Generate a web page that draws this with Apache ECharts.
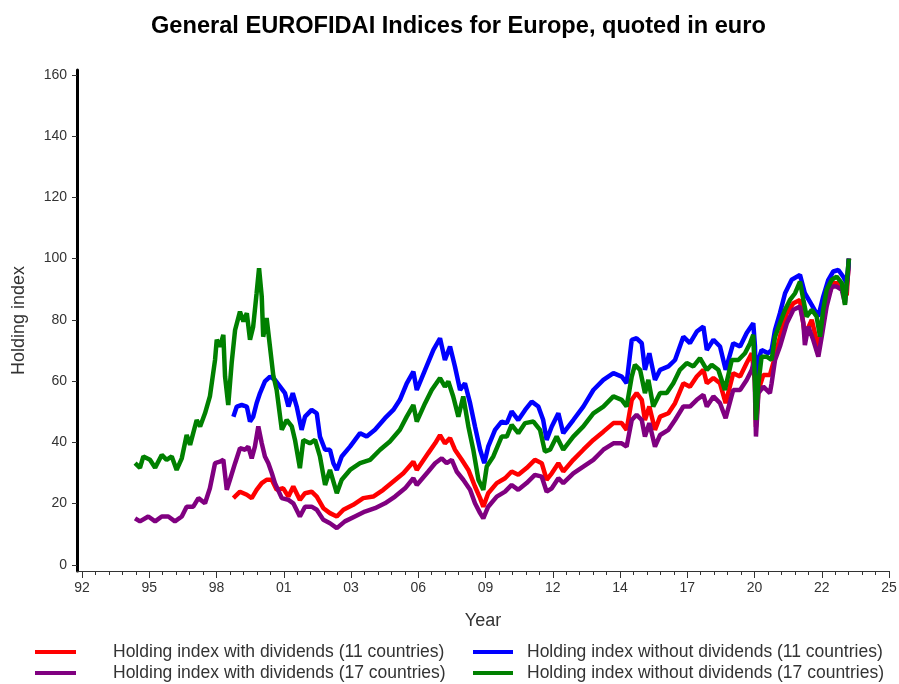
<!DOCTYPE html>
<html>
<head>
<meta charset="utf-8">
<title>General EUROFIDAI Indices for Europe</title>
<script src="https://cdn.jsdelivr.net/npm/echarts@6/dist/echarts.min.js"></script>
<style>
  html, body { margin: 0; padding: 0; background: #fff; }
  #chart { width: 899px; height: 684px; }
</style>
</head>
<body>
<div id="chart"></div>
<script>
// tick labels on the year axis (SAS style, one label every 2.75 years)
const tickLabels = ['92', '95', '98', '01', '03', '06', '09', '12', '14', '17', '20', '22', '25'];
const tickStart = 1992.75;
const tickStep = 2.75;
const yTicks = [0, 20, 40, 60, 80, 100, 120, 140, 160];

const seriesNames = [
    'Holding index with dividends (11 countries)',
    'Holding index with dividends (17 countries)',
    'Holding index without dividends (11 countries)',
    'Holding index without dividends (17 countries)'
];

// [year, index]
const withDiv11 = [
    [1998.94, 21.8], [1999.21, 23.9], [1999.49, 22.9], [1999.69, 21.8], [1999.89, 24.5], [2000.10, 26.7],
    [2000.30, 27.8], [2000.51, 27.8], [2000.71, 24.5], [2000.98, 25.0], [2001.19, 22.3], [2001.39, 25.6],
    [2001.66, 21.2], [2001.87, 23.4], [2002.14, 23.9], [2002.35, 22.3], [2002.62, 18.5], [2002.89, 16.9],
    [2003.17, 15.8], [2003.44, 18.0], [2003.84, 19.6], [2004.25, 21.8], [2004.66, 22.3], [2005.07, 24.5],
    [2005.48, 27.2], [2005.89, 29.9], [2006.30, 33.7], [2006.44, 31.0], [2006.91, 36.5], [2007.19, 39.7],
    [2007.39, 42.4], [2007.59, 39.7], [2007.80, 41.4], [2008.00, 37.6], [2008.28, 34.3], [2008.55, 31.0],
    [2008.82, 25.6], [2009.03, 21.8], [2009.16, 19.0], [2009.36, 23.4], [2009.71, 26.7], [2010.05, 28.3],
    [2010.32, 30.5], [2010.59, 29.4], [2010.93, 31.6], [2011.27, 34.3], [2011.55, 33.2], [2011.75, 27.8],
    [2011.96, 29.9], [2012.23, 33.2], [2012.43, 30.5], [2012.84, 34.3], [2013.25, 37.6], [2013.66, 40.8],
    [2014.07, 43.5], [2014.48, 46.3], [2014.82, 46.3], [2015.02, 44.1], [2015.23, 53.9], [2015.43, 56.1],
    [2015.64, 53.9], [2015.77, 47.3], [2015.95, 51.7], [2016.18, 44.1], [2016.39, 48.4], [2016.73, 49.5],
    [2017.00, 52.8], [2017.34, 59.3], [2017.61, 58.2], [2017.89, 61.5], [2018.16, 63.7], [2018.30, 59.3],
    [2018.57, 61.0], [2018.84, 59.3], [2019.07, 52.8], [2019.38, 62.6], [2019.66, 61.5], [2019.93, 65.9],
    [2020.14, 69.1], [2020.27, 60.0], [2020.31, 45.0], [2020.41, 57.0], [2020.61, 62.0], [2020.88, 62.0],
    [2021.09, 68.0], [2021.29, 74.5], [2021.57, 82.2], [2021.84, 85.4], [2022.11, 86.5], [2022.31, 75.0],
    [2022.59, 80.0], [2022.86, 71.0], [2023.06, 80.0], [2023.27, 88.0], [2023.47, 92.0], [2023.68, 92.0],
    [2023.88, 90.0], [2024.02, 88.0], [2024.11, 100.0]
];

const withDiv17 = [
    [1994.92, 15.2], [1995.12, 14.2], [1995.46, 15.8], [1995.74, 14.2], [1996.01, 15.8], [1996.28, 15.8],
    [1996.55, 14.2], [1996.83, 15.8], [1997.03, 19.0], [1997.30, 19.0], [1997.51, 21.8], [1997.78, 20.1],
    [1997.98, 25.0], [1998.19, 33.2], [1998.39, 33.7], [1998.53, 34.3], [1998.67, 24.5], [1998.80, 27.8],
    [1999.01, 33.2], [1999.21, 38.1], [1999.42, 37.6], [1999.55, 38.6], [1999.69, 34.8], [1999.82, 38.6],
    [1999.96, 45.2], [2000.10, 39.7], [2000.23, 35.4], [2000.37, 33.2], [2000.51, 30.0], [2000.64, 26.7],
    [2000.92, 21.8], [2001.19, 21.2], [2001.39, 20.1], [2001.66, 15.8], [2001.87, 19.0], [2002.14, 19.0],
    [2002.35, 18.0], [2002.62, 14.7], [2002.89, 13.6], [2003.17, 12.0], [2003.50, 14.2], [2003.91, 15.8],
    [2004.32, 17.4], [2004.73, 18.5], [2005.14, 20.1], [2005.55, 22.3], [2005.96, 25.0], [2006.30, 28.3],
    [2006.44, 26.1], [2006.91, 30.5], [2007.19, 33.2], [2007.46, 34.8], [2007.66, 33.2], [2007.87, 34.3],
    [2008.07, 30.5], [2008.34, 27.8], [2008.62, 24.5], [2008.82, 20.1], [2009.03, 16.9], [2009.16, 15.2],
    [2009.36, 19.0], [2009.71, 22.3], [2010.05, 23.9], [2010.32, 26.1], [2010.59, 24.5], [2010.93, 26.7],
    [2011.27, 29.4], [2011.55, 28.8], [2011.75, 23.9], [2011.96, 25.0], [2012.23, 28.3], [2012.43, 26.7],
    [2012.84, 29.9], [2013.25, 32.1], [2013.66, 34.3], [2014.07, 37.6], [2014.48, 39.7], [2014.82, 39.7],
    [2015.02, 38.6], [2015.23, 47.3], [2015.43, 49.0], [2015.64, 47.3], [2015.77, 41.9], [2015.95, 46.3],
    [2016.18, 38.6], [2016.39, 42.4], [2016.73, 44.1], [2017.00, 47.3], [2017.34, 51.7], [2017.61, 51.7],
    [2017.89, 53.9], [2018.16, 55.5], [2018.30, 51.7], [2018.57, 55.0], [2018.84, 52.8], [2019.07, 47.9],
    [2019.38, 57.1], [2019.66, 57.1], [2019.93, 60.4], [2020.14, 63.7], [2020.24, 66.9], [2020.31, 41.9],
    [2020.41, 56.1], [2020.61, 58.2], [2020.88, 56.1], [2020.95, 59.3], [2021.09, 66.9], [2021.29, 71.3],
    [2021.57, 78.9], [2021.84, 83.3], [2022.11, 84.4], [2022.25, 78.9], [2022.31, 71.8], [2022.45, 77.8],
    [2022.65, 73.5], [2022.86, 68.0], [2023.00, 74.5], [2023.20, 84.4], [2023.41, 90.9], [2023.61, 90.9],
    [2023.82, 89.8], [2023.95, 85.4], [2024.09, 96.3], [2024.11, 100.0]
];

const noDiv11 = [
    [1998.94, 48.4], [1999.08, 51.7], [1999.28, 52.2], [1999.49, 51.7], [1999.62, 46.8], [1999.75, 48.4],
    [1999.89, 52.8], [2000.03, 56.1], [2000.23, 59.9], [2000.44, 61.5], [2000.64, 60.4], [2000.85, 58.2],
    [2001.05, 56.1], [2001.19, 51.7], [2001.37, 56.1], [2001.53, 51.7], [2001.73, 44.1], [2001.87, 48.4],
    [2002.14, 50.6], [2002.35, 49.5], [2002.48, 41.9], [2002.69, 37.6], [2002.89, 37.6], [2003.03, 33.2],
    [2003.17, 31.0], [2003.37, 35.4], [2003.71, 38.6], [2004.12, 43.0], [2004.39, 41.9], [2004.73, 44.1],
    [2005.14, 47.9], [2005.48, 50.6], [2005.75, 53.9], [2006.03, 59.3], [2006.30, 63.1], [2006.44, 57.1],
    [2006.78, 63.7], [2007.12, 70.2], [2007.39, 74.0], [2007.59, 66.9], [2007.80, 71.3], [2008.00, 64.8],
    [2008.21, 57.1], [2008.41, 59.3], [2008.62, 52.8], [2008.82, 45.2], [2009.03, 37.6], [2009.20, 33.2],
    [2009.36, 38.6], [2009.64, 44.1], [2009.91, 46.8], [2010.12, 46.3], [2010.32, 50.1], [2010.59, 47.3],
    [2010.87, 50.6], [2011.14, 53.3], [2011.41, 51.7], [2011.61, 47.3], [2011.75, 40.8], [2011.96, 45.2],
    [2012.23, 49.5], [2012.43, 43.0], [2012.84, 47.3], [2013.25, 51.7], [2013.66, 57.1], [2014.07, 60.4],
    [2014.48, 62.6], [2014.82, 61.5], [2015.02, 59.3], [2015.23, 73.5], [2015.43, 74.0], [2015.64, 72.4],
    [2015.77, 63.7], [2015.95, 69.1], [2016.18, 60.4], [2016.39, 63.7], [2016.73, 64.8], [2017.00, 66.9],
    [2017.34, 74.5], [2017.61, 72.4], [2017.89, 76.2], [2018.16, 77.8], [2018.30, 70.2], [2018.57, 73.5],
    [2018.84, 71.3], [2019.07, 63.7], [2019.38, 72.4], [2019.66, 71.3], [2019.93, 75.7], [2020.20, 78.9],
    [2020.27, 71.3], [2020.31, 55.0], [2020.41, 66.9], [2020.54, 70.2], [2020.81, 69.1], [2020.95, 70.2],
    [2021.09, 76.7], [2021.29, 82.2], [2021.50, 88.7], [2021.77, 93.1], [2022.11, 94.7], [2022.31, 88.7],
    [2022.59, 84.9], [2022.86, 81.1], [2023.06, 87.6], [2023.27, 93.1], [2023.47, 95.8], [2023.68, 96.3],
    [2023.88, 94.1], [2024.02, 92.0], [2024.11, 100.0]
];

const noDiv17 = [
    [1994.92, 33.2], [1995.12, 31.7], [1995.26, 35.4], [1995.53, 34.3], [1995.74, 31.7], [1996.01, 35.9],
    [1996.21, 34.3], [1996.42, 35.4], [1996.62, 31.0], [1996.83, 34.8], [1997.03, 42.4], [1997.17, 39.2],
    [1997.44, 47.3], [1997.58, 45.2], [1997.78, 49.5], [1997.98, 55.0], [1998.19, 66.9], [1998.26, 73.5],
    [1998.39, 71.3], [1998.53, 75.1], [1998.60, 61.5], [1998.73, 52.2], [1998.87, 65.9], [1999.01, 76.7],
    [1999.21, 82.7], [1999.35, 79.5], [1999.49, 82.2], [1999.62, 73.5], [1999.75, 77.8], [1999.89, 88.7],
    [1999.99, 96.9], [2000.10, 87.6], [2000.16, 74.5], [2000.30, 80.6], [2000.44, 71.0], [2000.57, 62.0],
    [2000.71, 57.1], [2000.92, 44.1], [2001.12, 47.3], [2001.33, 45.2], [2001.46, 40.8], [2001.66, 31.6],
    [2001.80, 40.8], [2002.07, 39.7], [2002.28, 40.8], [2002.48, 35.4], [2002.69, 26.1], [2002.89, 31.0],
    [2003.17, 23.4], [2003.37, 27.8], [2003.71, 31.0], [2004.12, 33.2], [2004.53, 34.3], [2004.94, 37.6],
    [2005.34, 40.3], [2005.75, 44.1], [2006.03, 48.4], [2006.30, 52.2], [2006.44, 46.8], [2006.78, 52.8],
    [2007.05, 57.1], [2007.39, 61.0], [2007.59, 58.2], [2007.73, 59.9], [2007.93, 55.0], [2008.14, 48.4],
    [2008.34, 55.0], [2008.55, 45.2], [2008.75, 37.6], [2008.96, 27.8], [2009.16, 24.5], [2009.30, 32.1],
    [2009.57, 35.4], [2009.91, 41.9], [2010.12, 41.9], [2010.32, 45.7], [2010.59, 43.0], [2010.87, 46.3],
    [2011.21, 46.8], [2011.48, 44.1], [2011.68, 37.0], [2011.89, 37.6], [2012.16, 41.9], [2012.43, 37.6],
    [2012.84, 41.9], [2013.25, 45.2], [2013.66, 49.5], [2014.07, 51.7], [2014.48, 55.0], [2014.82, 53.9],
    [2015.02, 51.7], [2015.23, 61.5], [2015.36, 65.3], [2015.57, 63.7], [2015.77, 56.1], [2015.91, 60.4],
    [2016.11, 51.7], [2016.39, 56.1], [2016.66, 56.1], [2016.93, 59.3], [2017.20, 63.7], [2017.48, 65.9],
    [2017.75, 64.8], [2018.02, 67.5], [2018.30, 63.7], [2018.50, 65.3], [2018.77, 63.7], [2019.04, 57.1],
    [2019.32, 66.9], [2019.59, 66.9], [2019.86, 69.1], [2020.07, 72.4], [2020.20, 75.1], [2020.27, 59.3],
    [2020.31, 47.3], [2020.41, 59.3], [2020.54, 68.0], [2020.75, 68.0], [2020.95, 66.9], [2021.09, 74.5],
    [2021.29, 78.9], [2021.50, 83.3], [2021.70, 86.5], [2021.91, 88.7], [2022.11, 92.5], [2022.25, 86.5],
    [2022.38, 81.1], [2022.59, 83.3], [2022.79, 81.1], [2022.93, 74.5], [2023.06, 83.3], [2023.20, 89.8],
    [2023.41, 93.1], [2023.61, 94.1], [2023.82, 92.0], [2023.95, 84.9], [2024.02, 92.0], [2024.11, 100.0]
];

const seriesColors = ['#ff0000', '#800080', '#0000ff', '#008000'];
const seriesData = [withDiv11, withDiv17, noDiv11, noDiv17];

const font = "'Liberation Sans', Arial, sans-serif";

const majorTicks = tickLabels.map(function (_, i) { return tickStart + i * tickStep; });
const minorTicks = [];
for (let j = 0; j <= (tickLabels.length - 1) * 5; j++) {
    if (j % 5 !== 0) minorTicks.push(tickStart + j * tickStep / 5);
}
const xMin = tickStart - 0.2045;
const xMax = tickStart + (tickLabels.length - 1) * tickStep;

const chart = echarts.init(document.getElementById('chart'), null, { renderer: 'canvas' });

chart.setOption({
    animation: false,
    backgroundColor: '#ffffff',
    title: {
        text: 'General EUROFIDAI Indices for Europe, quoted in euro',
        left: 146,
        top: 9,
        textStyle: { fontFamily: font, fontSize: 23.6, fontWeight: 'bold', color: '#000' }
    },
    legend: [
        {
            left: 35, top: 643, height: 42, padding: 0, orient: 'vertical', itemGap: 3,
            icon: 'rect', itemWidth: 41, itemHeight: 4,
            data: [seriesNames[0], seriesNames[1]],
            textStyle: { fontFamily: font, fontSize: 17.5, color: '#333', padding: [0, 0, 0, 32] }
        },
        {
            left: 473, top: 643, height: 42, padding: 0, orient: 'vertical', itemGap: 3,
            icon: 'rect', itemWidth: 40, itemHeight: 4,
            data: [seriesNames[2], seriesNames[3]],
            textStyle: { fontFamily: font, fontSize: 17.5, color: '#333', padding: [0, 0, 0, 9] }
        }
    ],
    grid: {
        left: 77, right: 10, top: 70, bottom: 113,
        containLabel: false, outerBoundsMode: 'none'
    },
    xAxis: [
        {
            type: 'value',
            min: xMin,
            max: xMax,
            name: 'Year',
            nameLocation: 'middle',
            nameGap: 41,
            nameTextStyle: { fontFamily: font, fontSize: 18, color: '#333' },
            axisLine: { show: true, onZero: false, lineStyle: { color: '#333', width: 1 } },
            axisTick: { show: true, length: 7, customValues: majorTicks, lineStyle: { color: '#333' } },
            axisLabel: {
                customValues: majorTicks,
                margin: 10,
                fontFamily: font, fontSize: 14, color: '#333',
                formatter: function (v) {
                    return tickLabels[Math.round((v - tickStart) / tickStep)];
                }
            },
            splitLine: { show: false }
        },
        {
            type: 'value',
            min: xMin,
            max: xMax,
            position: 'bottom',
            axisLine: { show: false, onZero: false },
            axisTick: { show: true, length: 4, customValues: minorTicks, lineStyle: { color: '#333' } },
            axisLabel: { show: false },
            splitLine: { show: false }
        }
    ],
    yAxis: {
        type: 'value',
        min: -2,
        max: 161.6,
        name: 'Holding index',
        nameLocation: 'middle',
        nameGap: 49,
        nameTextStyle: { fontFamily: font, fontSize: 18, color: '#333' },
        axisLine: { show: true, onZero: false, lineStyle: { color: '#000', width: 3 } },
        axisTick: { show: true, length: 5, customValues: yTicks, lineStyle: { color: '#333' } },
        axisLabel: { customValues: yTicks, margin: 10, fontFamily: font, fontSize: 14, color: '#333' },
        splitLine: { show: false }
    },
    series: seriesNames.map(function (name, i) {
        return {
            name: name,
            type: 'line',
            xAxisIndex: 0,
            data: seriesData[i],
            showSymbol: false,
            symbol: 'none',
            color: seriesColors[i],
            lineStyle: { width: 4.5, color: seriesColors[i] }
        };
    })
});
</script>
</body>
</html>
